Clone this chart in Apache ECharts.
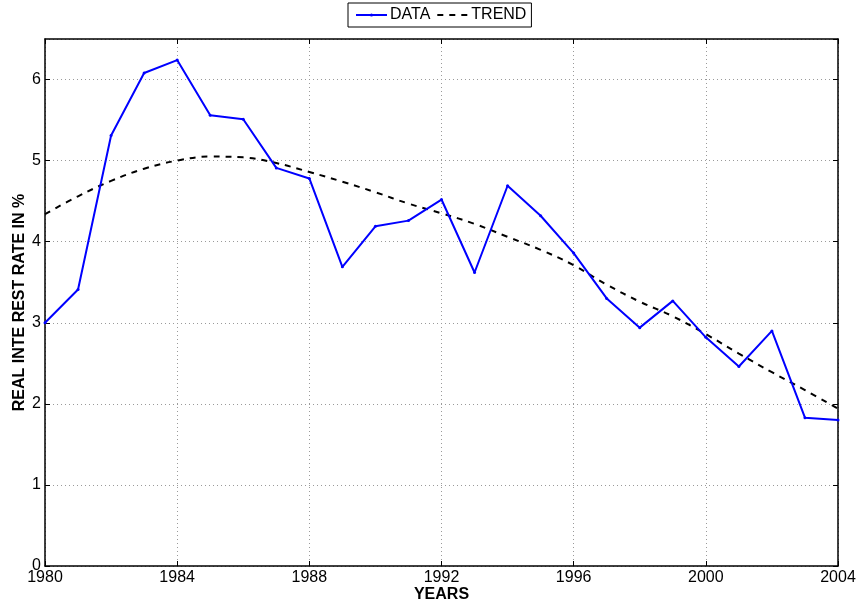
<!DOCTYPE html>
<html lang="en">
<head>
    <meta charset="UTF-8">
    <title>Real interest rate</title>
    <script type="text/javascript" src="https://cdn.jsdelivr.net/npm/echarts@6/dist/echarts.min.js"></script>
    <style>
        html, body { margin: 0; padding: 0; background: #fff; }
    </style>
</head>
<body>
<div id="main" style="width: 858px; height: 601px;"></div>
<script type="text/javascript">
    // years on the x axis
    var years = [1980, 1981, 1982, 1983, 1984, 1985, 1986, 1987, 1988, 1989, 1990, 1991,
        1992, 1993, 1994, 1995, 1996, 1997, 1998, 1999, 2000, 2001, 2002, 2003, 2004];
    // observed real interest rate (%)
    var dataValues = [3.00, 3.41, 5.31, 6.08, 6.24, 5.56, 5.51, 4.91, 4.78, 3.69, 4.19, 4.26,
        4.52, 3.62, 4.69, 4.32, 3.86, 3.30, 2.94, 3.27, 2.82, 2.46, 2.90, 1.83, 1.80];
    // fitted trend
    var trendValues = [4.34, 4.56, 4.75, 4.90, 5.00, 5.05, 5.04, 4.97, 4.86, 4.74, 4.61, 4.47,
        4.35, 4.22, 4.06, 3.90, 3.71, 3.47, 3.26, 3.08, 2.86, 2.62, 2.39, 2.17, 1.94];
    var yearTicks = [1980, 1984, 1988, 1992, 1996, 2000, 2004];

    function pairs(xs, ys) {
        var out = [];
        for (var i = 0; i < xs.length; i++) {
            out.push([xs[i], ys[i]]);
        }
        return out;
    }

    var font = "'Liberation Sans', Arial, Helvetica, sans-serif";
    var gridLine = { show: true, lineStyle: { color: '#9a9a9a', width: 1, type: [1, 3] } };
    var tickIn = { show: true, inside: true, length: 5, lineStyle: { color: '#000', width: 1 } };
    var axisBlack = { show: true, onZero: false, lineStyle: { color: '#000', width: 1.5 } };

    var myChart = echarts.init(document.getElementById('main'));
    var option = {
        animation: false,
        textStyle: { fontFamily: font },
        grid: { left: 45, right: 20, top: 39, bottom: 35, containLabel: false, outerBoundsMode: 'none' },
        legend: {
            top: 3,
            left: 348,
            data: [
                { name: 'DATA' },
                { name: 'TREND', itemStyle: { opacity: 0 } }
            ],
            orient: 'horizontal',
            borderColor: '#000',
            borderWidth: 1,
            borderRadius: 0,
            padding: [4, 5, 4, 7],
            itemGap: 6,
            itemWidth: 31,
            itemHeight: 4,
            textStyle: { fontSize: 16, color: '#000', fontFamily: font, padding: [0, 0, 0, -2] }
        },
        xAxis: [
            {
                type: 'value',
                min: 1980,
                max: 2004,
                interval: 4,
                name: 'YEARS',
                nameLocation: 'middle',
                nameGap: 21,
                nameMoveOverlap: false,
                nameTextStyle: { fontSize: 16, fontWeight: 'bold', color: '#000', fontFamily: font },
                axisLine: axisBlack,
                axisTick: tickIn,
                axisLabel: {
                    color: '#000', fontSize: 16, margin: 4, fontFamily: font,
                    formatter: function (v) { return yearTicks.indexOf(v) >= 0 ? String(v) : ''; }
                },
                splitLine: gridLine
            },
            {
                type: 'value',
                position: 'top',
                min: 1980,
                max: 2004,
                interval: 4,
                axisLine: axisBlack,
                axisTick: tickIn,
                axisLabel: { show: false },
                splitLine: { show: false }
            }
        ],
        yAxis: [
            {
                type: 'value',
                min: 0,
                max: 6.5,
                interval: 1,
                name: 'REAL INTE REST RATE IN %',
                nameLocation: 'middle',
                nameGap: 17,
                nameMoveOverlap: false,
                nameRotate: 90,
                nameTextStyle: { fontSize: 16, fontWeight: 'bold', color: '#000', fontFamily: font },
                axisLine: axisBlack,
                axisTick: tickIn,
                axisLabel: { color: '#000', fontSize: 16, margin: 4, fontFamily: font, showMaxLabel: false },
                splitLine: gridLine
            },
            {
                type: 'value',
                position: 'right',
                min: 0,
                max: 6.5,
                interval: 1,
                axisLine: axisBlack,
                axisTick: tickIn,
                axisLabel: { show: false },
                splitLine: { show: false }
            }
        ],
        series: [
            {
                name: 'DATA',
                type: 'line',
                xAxisIndex: 0,
                yAxisIndex: 0,
                data: pairs(years, dataValues),
                symbol: 'circle',
                symbolSize: 3,
                showSymbol: true,
                itemStyle: { color: '#0000ff' },
                lineStyle: { color: '#0000ff', width: 2 },
                z: 3
            },
            {
                name: 'TREND',
                type: 'line',
                xAxisIndex: 0,
                yAxisIndex: 0,
                data: pairs(years, trendValues),
                smooth: 0.4,
                symbol: 'none',
                itemStyle: { color: '#000' },
                lineStyle: { color: '#000', width: 2, type: [6, 6] },
                z: 2
            }
        ]
    };
    myChart.setOption(option);
</script>
</body>
</html>
